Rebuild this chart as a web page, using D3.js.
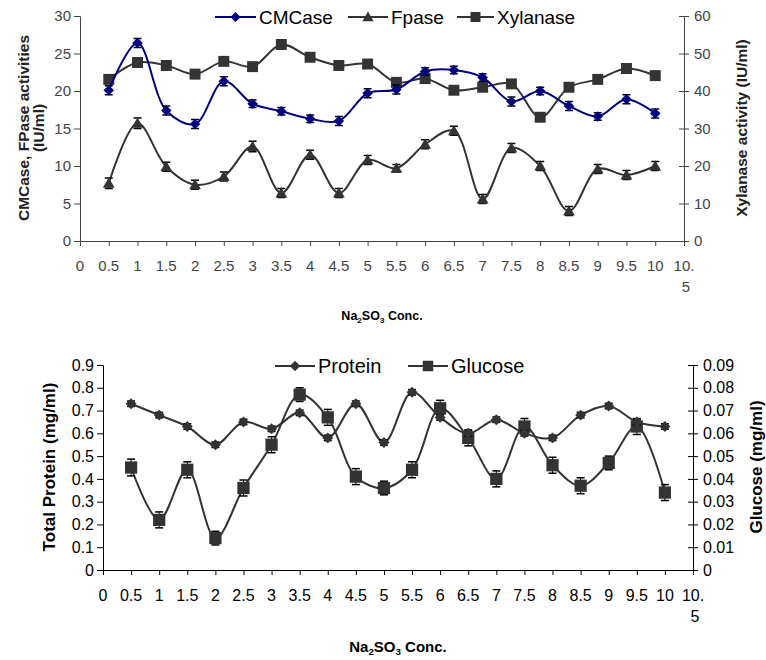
<!DOCTYPE html>
<html>
<head>
<meta charset="utf-8">
<script src="https://cdn.jsdelivr.net/npm/d3@7"></script>
<style>
  body { margin: 0; background: #fff; }
  svg { font-family: "Liberation Sans", Arial, sans-serif; }
</style>
</head>
<body>
<div id="chart"></div>
<script>
// x categories (Na2SO3 conc.) and axis ticks
const conc = [0.5, 1, 1.5, 2, 2.5, 3, 3.5, 4, 4.5, 5, 5.5, 6, 6.5, 7, 7.5, 8, 8.5, 9, 9.5, 10];
const xTicks = [0, 0.5, 1, 1.5, 2, 2.5, 3, 3.5, 4, 4.5, 5, 5.5, 6, 6.5, 7, 7.5, 8, 8.5, 9, 9.5, 10, 10.5];

// top panel
const cmcase = [20.1, 26.4, 17.4, 15.6, 21.3, 18.3, 17.3, 16.3, 16.0, 19.7, 20.2, 22.6, 22.8, 21.8, 18.6, 20.0, 18.0, 16.6, 18.9, 17.0];
const cmcaseErr = [0.6, 0.6, 0.6, 0.6, 0.6, 0.5, 0.5, 0.5, 0.6, 0.6, 0.6, 0.5, 0.5, 0.5, 0.6, 0.5, 0.6, 0.5, 0.6, 0.6];
const fpase = [7.7, 15.7, 9.9, 7.5, 8.6, 12.6, 6.4, 11.5, 6.4, 10.8, 9.7, 12.9, 14.7, 5.6, 12.4, 10.0, 4.0, 9.6, 8.8, 10.0];
const fpaseErr = [0.7, 0.7, 0.6, 0.6, 0.6, 0.7, 0.6, 0.6, 0.6, 0.6, 0.5, 0.6, 0.6, 0.6, 0.6, 0.6, 0.6, 0.6, 0.6, 0.6];
const xylanase = [43.1, 47.6, 46.8, 44.5, 47.9, 46.5, 52.4, 49.0, 46.8, 47.2, 42.3, 43.3, 40.2, 41.0, 41.9, 33.0, 41.0, 43.1, 46.0, 44.1];
const leftTicksTop = [0, 5, 10, 15, 20, 25, 30];
const rightTicksTop = [0, 10, 20, 30, 40, 50, 60];

// bottom panel
const protein = [0.73, 0.68, 0.63, 0.55, 0.65, 0.62, 0.69, 0.58, 0.73, 0.56, 0.78, 0.67, 0.60, 0.66, 0.60, 0.58, 0.68, 0.72, 0.65, 0.63];
const proteinErr = [0.012, 0.012, 0.012, 0.012, 0.012, 0.012, 0.012, 0.012, 0.012, 0.012, 0.012, 0.012, 0.012, 0.012, 0.012, 0.012, 0.012, 0.012, 0.012, 0.012];
const glucose = [0.045, 0.022, 0.044, 0.014, 0.036, 0.055, 0.077, 0.067, 0.041, 0.036, 0.044, 0.071, 0.058, 0.040, 0.063, 0.046, 0.037, 0.047, 0.063, 0.034];
const glucoseErr = [0.0037, 0.0035, 0.0035, 0.0030, 0.0035, 0.0035, 0.0030, 0.0035, 0.0035, 0.0030, 0.0035, 0.0035, 0.0035, 0.0035, 0.0035, 0.0035, 0.0035, 0.0030, 0.0035, 0.0035];
const leftTicksBot = [0, 0.1, 0.2, 0.3, 0.4, 0.5, 0.6, 0.7, 0.8, 0.9];
const rightTicksBot = [0, 0.01, 0.02, 0.03, 0.04, 0.05, 0.06, 0.07, 0.08, 0.09];

const svg = d3.select("#chart").append("svg")
  .attr("width", 766)
  .attr("height", 660);

const line = (x, y) => d3.line()
  .x((d, i) => x(conc[i]))
  .y(d => y(d))
  .curve(d3.curveCatmullRom.alpha(0.5));

const marker = (g, type, cx, cy, size, color) => {
  if (type === "diamond") {
    g.append("path")
      .attr("d", d3.symbol(d3.symbolSquare, size)())
      .attr("transform", `translate(${cx},${cy}) rotate(45)`)
      .attr("fill", color);
  } else if (type === "triangle") {
    g.append("path")
      .attr("d", d3.symbol(d3.symbolTriangle, size)())
      .attr("transform", `translate(${cx},${cy + 1})`)
      .attr("fill", color);
  } else {
    g.append("path")
      .attr("d", d3.symbol(d3.symbolSquare, size)())
      .attr("transform", `translate(${cx},${cy})`)
      .attr("fill", color);
  }
};

const drawSeries = (g, x, y, values, errs, type, size, color) => {
  g.append("path")
    .datum(values)
    .attr("d", line(x, y))
    .attr("fill", "none")
    .attr("stroke", color)
    .attr("stroke-width", 2);
  if (errs) {
    values.forEach((v, i) => {
      const cx = x(conc[i]);
      const y1 = y(v + errs[i]), y2 = y(v - errs[i]);
      g.append("line").attr("x1", cx).attr("x2", cx).attr("y1", y1).attr("y2", y2)
        .attr("stroke", "#000").attr("stroke-width", 1);
      [y1, y2].forEach(yy => g.append("line")
        .attr("x1", cx - 4).attr("x2", cx + 4).attr("y1", yy).attr("y2", yy)
        .attr("stroke", "#000").attr("stroke-width", 1.5));
    });
  }
  values.forEach((v, i) => marker(g, type, x(conc[i]), y(v), size, color));
};

const xAxis = (g, x, yPos, color, fontSize, labelY) => {
  g.append("g")
    .attr("transform", `translate(0,${yPos})`)
    .call(d3.axisBottom(x).tickValues(xTicks).tickSize(5).tickFormat(""))
    .call(a => a.select(".domain").attr("stroke", color))
    .call(a => a.selectAll(".tick line").attr("stroke", color));
  xTicks.forEach(t => {
    const txt = g.append("text")
      .attr("x", x(t))
      .attr("y", labelY)
      .attr("text-anchor", "middle")
      .attr("font-size", fontSize)
      .attr("fill", color);
    if (t === 10.5) {
      txt.append("tspan").attr("x", x(t)).text("10.");
      txt.append("tspan").attr("x", x(t) + 2).attr("dy", 21).text("5");
    } else {
      txt.text(t);
    }
  });
};

const yAxis = (g, scale, ticks, xPos, side, color, fontSize, fmt) => {
  const ax = side === "left" ? d3.axisLeft(scale) : d3.axisRight(scale);
  const a = g.append("g")
    .attr("transform", `translate(${xPos},0)`)
    .call(ax.tickValues(ticks).tickSize(side === "left" ? 6 : 5).tickPadding(side === "left" ? 3 : 5).tickFormat(fmt));
  a.select(".domain").attr("stroke", color);
  a.selectAll(".tick line").attr("stroke", color);
  if (side === "right") a.selectAll(".tick line").attr("x1", -5);
  a.selectAll(".tick text").attr("font-size", fontSize).attr("fill", color)
    .attr("font-family", "'Liberation Sans', Arial, sans-serif");
};

const legend = (g, items, y, fontSize) => {
  items.forEach(it => {
    g.append("line").attr("x1", it.x1).attr("x2", it.x2).attr("y1", y).attr("y2", y)
      .attr("stroke", it.color).attr("stroke-width", 2);
    marker(g, it.type, (it.x1 + it.x2) / 2, y, it.size, it.color);
    g.append("text").attr("x", it.x2 + 3).attr("y", y + 7)
      .attr("font-size", fontSize).attr("fill", "#000").text(it.label);
  });
};

const subTitle = (g, cx, y, fontSize) => {
  const t = g.append("text").attr("x", cx).attr("y", y)
    .attr("text-anchor", "middle").attr("font-weight", "bold").attr("font-size", fontSize);
  t.append("tspan").text("Na");
  t.append("tspan").attr("font-size", fontSize * 0.65).attr("dy", 3).text("2");
  t.append("tspan").attr("dy", -3).text("SO");
  t.append("tspan").attr("font-size", fontSize * 0.65).attr("dy", 3).text("3");
  t.append("tspan").attr("dy", -3).text(" Conc.");
};

// ---------- top panel ----------
const topG = svg.append("g");
const xT = d3.scaleLinear().domain([0, 10.5]).range([80, 684]);
const yL = d3.scaleLinear().domain([0, 30]).range([241, 16]);
const yR = d3.scaleLinear().domain([0, 60]).range([241, 16]);

yAxis(topG, yL, leftTicksTop, 80, "left", "#444", 15, d3.format("d"));
yAxis(topG, yR, rightTicksTop, 684, "right", "#444", 15, d3.format("d"));
xAxis(topG, xT, 241, "#444", 15, 271);

drawSeries(topG, xT, yR, xylanase, null, "square", 120, "#333");
drawSeries(topG, xT, yL, fpase, fpaseErr, "triangle", 60, "#333");
drawSeries(topG, xT, yL, cmcase, cmcaseErr, "diamond", 55, "#000080");

legend(topG, [
  { x1: 215, x2: 256, label: "CMCase", type: "diamond", size: 50, color: "#000080" },
  { x1: 348, x2: 388, label: "Fpase", type: "triangle", size: 55, color: "#333" },
  { x1: 457, x2: 494, label: "Xylanase", type: "square", size: 100, color: "#333" }
], 17, 19);

topG.append("text")
  .attr("transform", "translate(29,128) rotate(-90)")
  .attr("text-anchor", "middle").attr("font-weight", "bold").attr("font-size", 15.5)
  .attr("fill", "#222").text("CMCase, FPase activities");
topG.append("text")
  .attr("transform", "translate(44,128) rotate(-90)")
  .attr("text-anchor", "middle").attr("font-weight", "bold").attr("font-size", 15.5)
  .attr("fill", "#222").text("(IU/ml)");
topG.append("text")
  .attr("transform", "translate(747,128) rotate(-90)")
  .attr("text-anchor", "middle").attr("font-weight", "bold").attr("font-size", 15.5)
  .attr("fill", "#222").text("Xylanase activity (IU/ml)");
subTitle(topG, 382, 320, 12.5);

// ---------- bottom panel ----------
const botG = svg.append("g");
const xB = d3.scaleLinear().domain([0, 10.5]).range([103, 693]);
const yPL = d3.scaleLinear().domain([0, 0.9]).range([570, 365]);
const yGR = d3.scaleLinear().domain([0, 0.09]).range([570, 365]);

yAxis(botG, yPL, leftTicksBot, 103, "left", "#000", 16, d => d === 0 ? "0" : d3.format(".1f")(d));
yAxis(botG, yGR, rightTicksBot, 693, "right", "#000", 16, d => d === 0 ? "0" : d3.format(".2f")(d));
xAxis(botG, xB, 570, "#000", 16, 601);

drawSeries(botG, xB, yGR, glucose, glucoseErr, "square", 150, "#333");
drawSeries(botG, xB, yPL, protein, proteinErr, "diamond", 60, "#333");

legend(botG, [
  { x1: 275, x2: 315, label: "Protein", type: "diamond", size: 55, color: "#333" },
  { x1: 408, x2: 448, label: "Glucose", type: "square", size: 110, color: "#333" }
], 366, 20);

botG.append("text")
  .attr("transform", "translate(55,467) rotate(-90)")
  .attr("text-anchor", "middle").attr("font-weight", "bold").attr("font-size", 17)
  .text("Total Protein (mg/ml)");
botG.append("text")
  .attr("transform", "translate(762,467) rotate(-90)")
  .attr("text-anchor", "middle").attr("font-weight", "bold").attr("font-size", 17)
  .text("Glucose (mg/ml)");
subTitle(botG, 398, 652, 15);
</script>
</body>
</html>
